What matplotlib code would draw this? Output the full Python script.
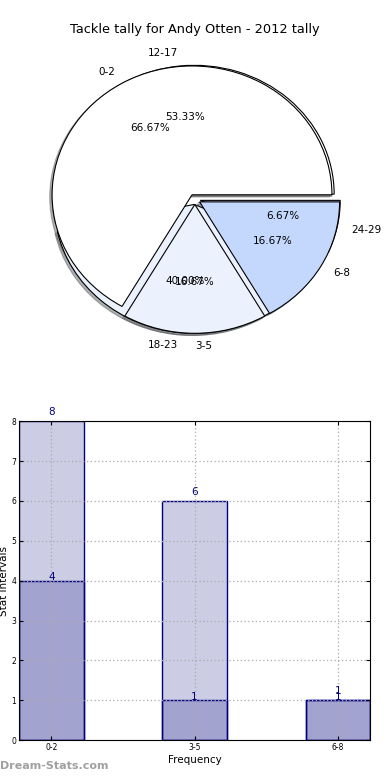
import numpy as np
import matplotlib.pyplot as plt

title = "Tackle tally for Andy Otten - 2012 tally"

# pie 1 (front) and pie 2 (behind)
front_labels = ["0-2", "3-5", "6-8"]
front_vals = [4, 1, 1]
back_labels = ["12-17", "18-23", "24-29"]
back_vals = [8, 6, 1]

# bar chart
bar_cats = ["0-2", "3-5", "6-8"]
bar_totals = [8, 6, 1]
bar_counts = [4, 1, 1]

pie_colors = ["white", "#ebf1fd", "#c4d8fe"]
navy = "#000080"
fill = (0, 0, 0.5, 0.2)

fig = plt.figure(figsize=(3.9, 7.8), dpi=100)
fig.text(0.5, 0.962, title, ha="center", va="center", fontsize=9.3)

# Pie chart
ax1 = fig.add_axes([0.051, 0.538, 0.897, 0.413])
for vals, labels in [(back_vals, back_labels), (front_vals, front_labels)]:
    wedges, texts, autotexts = ax1.pie(
        vals, labels=labels, colors=pie_colors, autopct="%1.2f%%",
        explode=[0.04] * len(vals), startangle=0,
        shadow=dict(ox=-0.012, oy=-0.012, shade=0.6),
        wedgeprops=dict(edgecolor="black", linewidth=0.8),
        textprops=dict(fontsize=7.5))
ax1.set_aspect("auto")
ax1.set_xlim(-1.25, 1.25)
ax1.set_ylim(-1.25, 1.25)

# Bar chart
ax2 = fig.add_axes([0.049, 0.051, 0.9, 0.409])
x = np.arange(len(bar_cats))
width = 0.45
ax2.bar(x, bar_totals, width, facecolor=fill, edgecolor=navy, linewidth=1)
ax2.bar(x, bar_counts, width, facecolor=fill, edgecolor=navy, linewidth=1)
for xi, h in zip(x, bar_totals):
    ax2.annotate(str(h), (xi, h), xytext=(0, 3), textcoords="offset points",
                 ha="center", va="bottom", color=navy, fontsize=7.5)
for xi, h in zip(x, bar_counts):
    ax2.annotate(str(h), (xi, h), xytext=(0, -1), textcoords="offset points",
                 ha="center", va="bottom", color=navy, fontsize=7.5)

ax2.set_xlim(-width / 2, len(bar_cats) - 1 + width / 2)
ax2.set_ylim(0, 8)
ax2.set_xticks(x)
ax2.set_xticklabels(bar_cats)
ax2.set_yticks(range(0, 9))
ax2.tick_params(direction="in", top=True, right=True, labelsize=5.5, length=3, pad=2)
ax2.set_axisbelow("line")
ax2.grid(True, linestyle=(0, (1, 2)), color="#aaaaaa", linewidth=0.9)
ax2.set_xlabel("Frequency", fontsize=7.5, labelpad=2)
ax2.set_ylabel("Stat Intervals", fontsize=7.5, labelpad=2)

fig.text(0.0, 0.012, "Dream-Stats.com", ha="left", va="bottom",
         fontsize=8, fontweight="bold", color="#a0a0a0")

fig.savefig("out.png", dpi=100)
